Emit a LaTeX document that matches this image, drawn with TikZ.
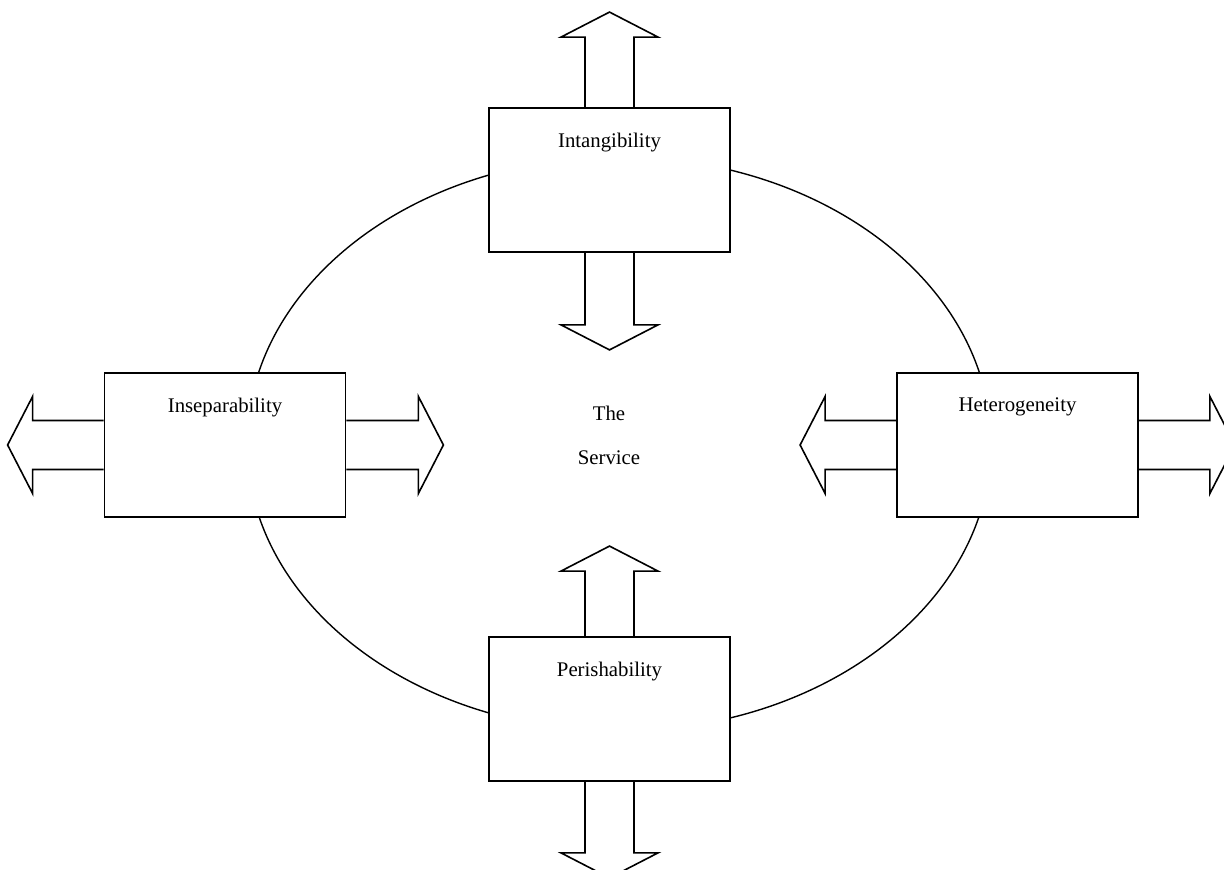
\documentclass[tikz,border=0pt]{standalone}
\usepackage{fontspec}
\setmainfont{Liberation Serif}

\tikzset{
  factor/.style={draw, line width=0.9pt, fill=white, minimum width=120.5pt,
    minimum height=72pt, inner sep=0pt},
  factorlabel/.style={font=\fontsize{10.4pt}{12pt}\selectfont},
  fatline/.style={line width=0.8pt, line join=miter},
}
\newcommand{\FatArrow}[3]{%
  \begin{scope}[shift={(#1)}, rotate=#2]
    \draw[fatline] (0,24.5) -- (#3-25,24.5) -- (#3-25,48.5) -- (#3,0)
      -- (#3-25,-48.5) -- (#3-25,-24.5) -- (0,-24.5);
  \end{scope}}

\begin{document}
\begin{tikzpicture}[x=0.5pt, y=0.5pt]
  \useasboundingbox (0,0) rectangle (1224,870);
  \draw[line width=0.7pt] (619,426) ellipse [x radius=372, y radius=287];

  \node[factor] (intang) at (609.5,690) {};
  \node[factor] (insep) at (225,425) {};
  \node[factor] (hetero) at (1017.5,425) {};
  \node[factor] (perish) at (609.5,161) {};

  \node[factorlabel] (intangT) at ([yshift=-17.5pt]intang.north) {Intangibility};
  \node[factorlabel] (insepT) at ([yshift=-17.5pt]insep.north) {Inseparability};
  \node[factorlabel] (heteroT) at ([yshift=-17.5pt]hetero.north) {Heterogeneity};
  \node[factorlabel] (perishT) at ([yshift=-17.5pt]perish.north) {Perishability};
  \node[align=center, font=\fontsize{10.4pt}{22pt}\selectfont] (service) at (609,435) {The\\Service};

  \FatArrow{intang.north}{90}{95}
  \FatArrow{intang.south}{-90}{97}
  \FatArrow{insep.west}{180}{96}
  \FatArrow{insep.east}{0}{97}
  \FatArrow{hetero.west}{180}{96}
  \FatArrow{hetero.east}{0}{96}
  \FatArrow{perish.north}{90}{90}
  \FatArrow{perish.south}{-90}{96}
\end{tikzpicture}
\end{document}
